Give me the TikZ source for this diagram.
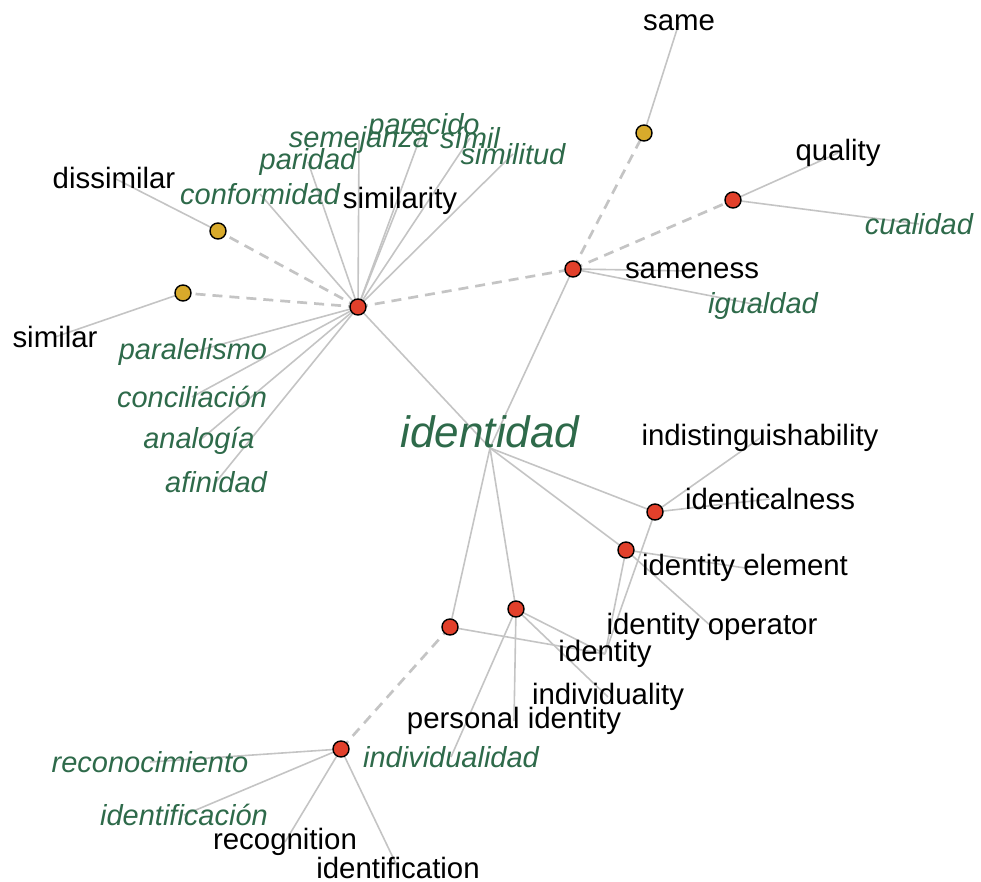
\documentclass[tikz,border=0pt]{standalone}
\usepackage{fontspec}
\setmainfont{Liberation Sans}
\usetikzlibrary{backgrounds}
\definecolor{HubRed}{HTML}{E2402B}
\definecolor{LinkGold}{HTML}{D8AA2B}
\definecolor{WordGreen}{HTML}{2E6A4A}
\definecolor{EdgeGray}{HTML}{C4C4C4}

\begin{document}
\begin{tikzpicture}[x=0.5pt,y=-0.5pt,
    hub/.style={circle,draw=black,fill=HubRed,line width=0.7pt,inner sep=0pt,minimum size=8pt},
    link/.style={hub,fill=LinkGold},
    en/.style={inner sep=0pt,font=\fontsize{14.7}{16}\selectfont},
    es/.style={inner sep=0pt,text=WordGreen,font=\fontsize{14.5}{16}\selectfont\itshape},
    edge/.style={draw=EdgeGray,line width=0.8pt},
    jump/.style={draw=EdgeGray,line width=1.35pt,dash pattern=on 5pt off 3.5pt}]
    \useasboundingbox (0,0) rectangle (981,882);
    \foreach \x/\y/\name in {358/307/simHub,573/269/sameHub,733/200/qualHub,655/512/identHub,
        626/550/elemHub,516/609/indivHub,450/627/persHub,341/749/recogHub} {
     \node[hub] (\name) at (\x,\y) {};
    }
    \foreach \x/\y/\name in {644/133/sameLink,218/231/dissimLink,183/293/similarLink} {
     \node[link] (\name) at (\x,\y) {};
    }
    \node[es,anchor=base,font=\fontsize{22}{24}\selectfont\itshape] (identidad) at (490,448) {identidad};
    \foreach \x/\y/\name/\txt in {679/23/same/same,838/153/quality/quality,692/271/sameness/sameness,
        400/201/similarity/similarity,114/178/dissimilar/dissimilar,55/337/similar/similar,
        760/438/indist/indistinguishability,770/499/identical/identicalness,
        745/568/element/identity element,712/627/operator/identity operator,605/654/identity/identity,
        608/697/individuality/individuality,514/721/personal/personal identity,
        285/842/recognition/recognition,398/868/identification/identification} {
     \node[en] (\name) at (\x,\y) {\txt};
    }
    \foreach \x/\y/\name/\txt in {919/224/cualidad/cualidad,763/306/igualdad/igualdad,
        424/127/parecido/parecido,359/140/semejanza/semejanza,470/138/simil/símil,
        513/154/similitud/similitud,308/162/paridad/paridad,260/194/conformidad/conformidad,
        193/352/paralelismo/paralelismo,192/397/conciliacion/conciliación,199/441/analogia/analogía,
        216/482/afinidad/afinidad,451/757/individualidad/individualidad,
        150/762/reconocimiento/reconocimiento,184/815/identificacion/identificación} {
     \node[es] (\name) at (\x,\y) {\txt};
    }
    \begin{scope}[on background layer]
     \foreach \a/\b in {simHub/similarity,simHub/parecido,simHub/semejanza,simHub/simil,
         simHub/similitud,simHub/paridad,simHub/conformidad,simHub/paralelismo,
         simHub/conciliacion,simHub/analogia,simHub/afinidad,dissimLink/dissimilar,
         similarLink/similar,sameLink/same,qualHub/quality,qualHub/cualidad,
         sameHub/sameness,sameHub/igualdad,identHub/indist,identHub/identical,
         identHub/identity,elemHub/element,elemHub/operator,elemHub/identity,
         indivHub/identity,indivHub/individuality,indivHub/personal,indivHub/individualidad,
         persHub/identity,recogHub/reconocimiento,recogHub/identificacion,
         recogHub/recognition,recogHub/identification} {
      \draw[edge] (\a.center) -- (\b.center);
     }
     \foreach \a in {simHub,sameHub,identHub,elemHub,indivHub,persHub} {
      \draw[edge] (\a.center) -- (identidad.base);
     }
     \foreach \a/\b in {simHub/dissimLink,simHub/similarLink,simHub/sameHub,
         sameHub/sameLink,sameHub/qualHub,persHub/recogHub} {
      \draw[jump] (\a.center) -- (\b.center);
     }
    \end{scope}
\end{tikzpicture}
\end{document}
